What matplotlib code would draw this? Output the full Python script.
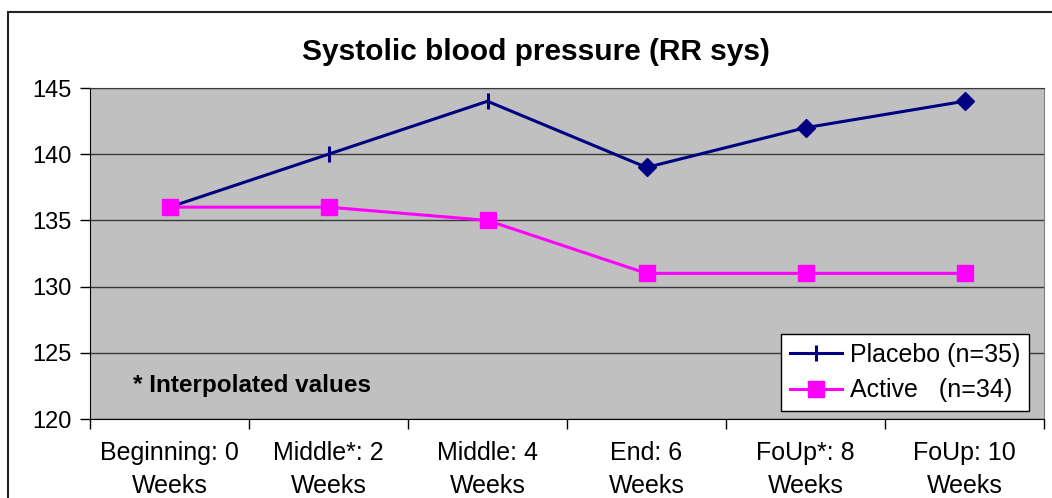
import numpy as np
import matplotlib.pyplot as plt
from matplotlib.patches import Rectangle

plt.rcParams['font.family'] = ['Liberation Sans', 'DejaVu Sans']

categories = ["Beginning: 0\nWeeks", "Middle*: 2\nWeeks", "Middle: 4\nWeeks",
              "End: 6\nWeeks", "FoUp*: 8\nWeeks", "FoUp: 10\nWeeks"]
placebo = [136, 140, 144, 139, 142, 144]
active = [136, 136, 135, 131, 131, 131]
# first three placebo points are drawn with a bar marker, the rest with diamonds
bar_idx = [0, 1, 2]
diamond_idx = [3, 4, 5]

navy = '#000080'
pink = '#FF00FF'

fig = plt.figure(figsize=(10.52, 4.98), dpi=100)
ax = fig.add_axes([90/1052, 1-419/498, 954/1052, 331/498])
ax.set_facecolor('#C0C0C0')

x = np.arange(len(categories))
ax.plot(x, placebo, color=navy, lw=2.2, marker='|', markersize=12, mew=2.2,
        markevery=bar_idx, label='Placebo (n=35)', zorder=3)
ax.plot(x[diamond_idx], np.array(placebo)[diamond_idx], ls='none', marker='D',
        markersize=9, color=navy, zorder=3)
ax.plot(x, active, color=pink, lw=2.2, marker='s', markersize=11,
        label='Active   (n=34)', zorder=4)

ax.set_xlim(-0.5, len(categories) - 0.5)
ax.set_ylim(120, 145)
ax.set_yticks(np.arange(120, 146, 5))
ax.yaxis.grid(True, color='#3a3a3a', lw=1)
ax.set_axisbelow(True)

ax.set_xticks(np.arange(-0.5, len(categories), 1))
ax.set_xticklabels([])
ax.set_xticks(x, minor=True)
ax.set_xticklabels(categories, minor=True, fontsize=18, linespacing=1.45)
ax.tick_params(axis='x', which='major', length=7, width=1, direction='out')
ax.tick_params(axis='x', which='minor', length=0, pad=16)
ax.tick_params(axis='y', length=7, width=1, labelsize=17, pad=6)

for s in ['left', 'bottom']:
    ax.spines[s].set_color('black')
ax.spines['top'].set_color('#3a3a3a')
ax.spines['right'].set_color('#808080')

ax.text(0.045, 0.1, '* Interpolated values', transform=ax.transAxes,
        fontsize=17.5, fontweight='bold', va='center', ha='left')

leg = ax.legend(loc='lower right', bbox_to_anchor=(0.984, 0.024),
                borderaxespad=0, fontsize=18, fancybox=False, framealpha=1,
                edgecolor='black', handlelength=2.1, handletextpad=0.3,
                borderpad=0.35, labelspacing=0.45)
leg.get_frame().set_linewidth(1)

fig.text(536/1052, 1-52/498, 'Systolic blood pressure (RR sys)',
         fontsize=21.5, fontweight='bold', ha='center', va='center')

fig.patches.append(Rectangle((8/1052, -0.1), 1.2, 1.1 - 12/498, transform=fig.transFigure,
                             fill=False, edgecolor='#222222', lw=1.5))

fig.savefig('out.png', dpi=100)
